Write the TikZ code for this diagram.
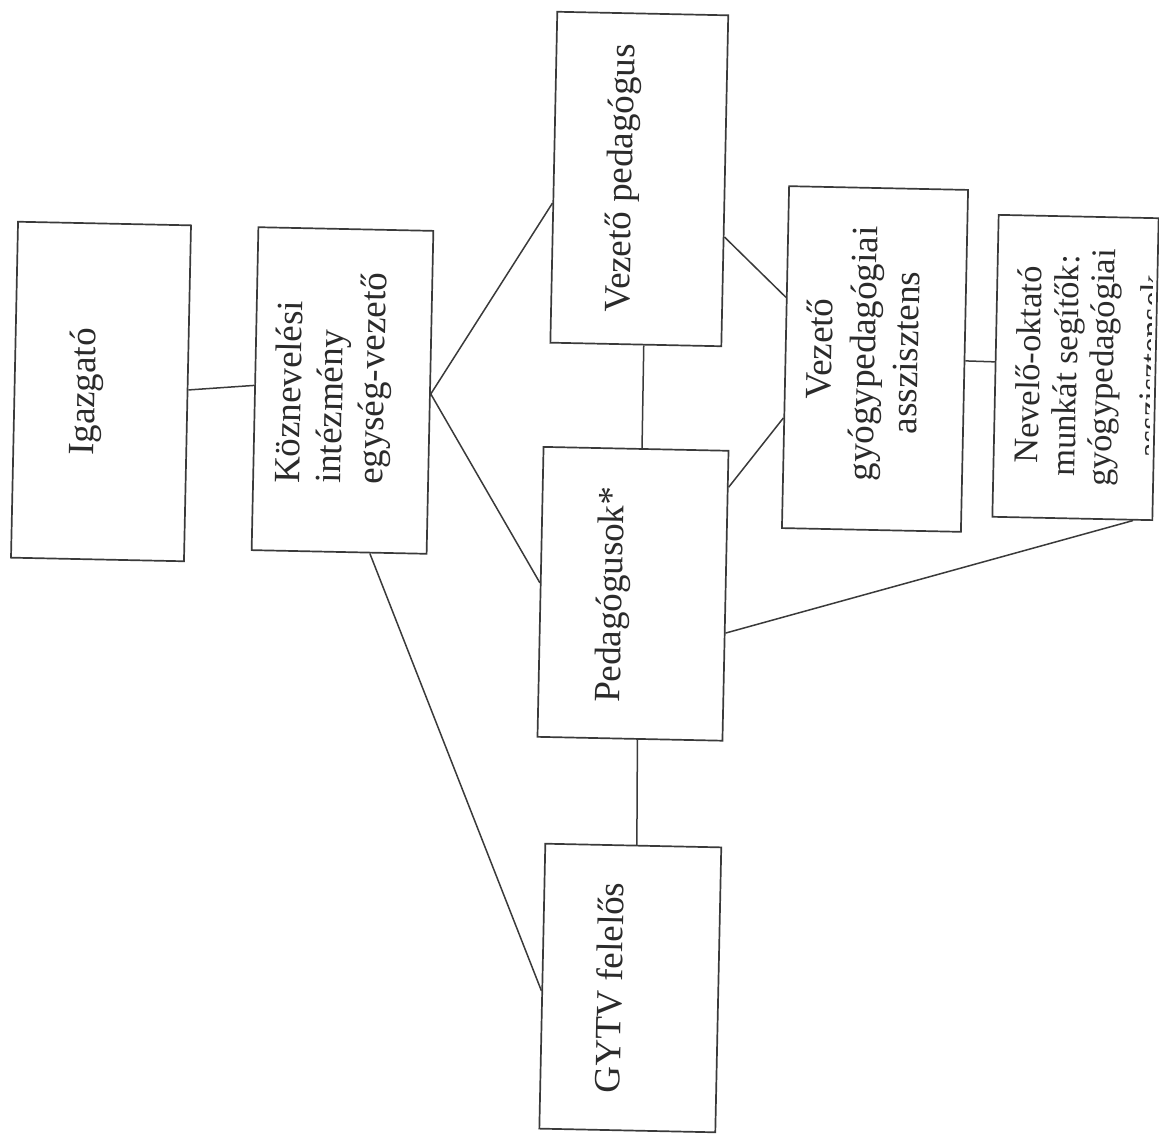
\documentclass[tikz,border=0pt]{standalone}
\usepackage{fontspec}
\setmainfont{Liberation Serif}
\usetikzlibrary{calc}
\definecolor{ink}{HTML}{3A3A3A}
\definecolor{txt}{HTML}{2B2B2B}
\begin{document}
\begin{tikzpicture}[x=1pt,y=1pt,
  box/.style={draw=ink, line width=1.7pt, rectangle, inner sep=0pt, rotate=-1.2},
  lbl/.style={text=txt, inner sep=0pt, rotate=88.8, font=\fontsize{37}{44}\selectfont},
  lbls/.style={text=txt, inner sep=0pt, rotate=88.8, font=\fontsize{34.5}{40}\selectfont},
  link/.style={draw=ink, line width=1.5pt}]
\useasboundingbox (0,0) rectangle (1159,-1137);
\fill[white] (0,0) rectangle (1159,-1137);
% boxes
\node[box, minimum width=173pt, minimum height=336pt] (ig) at (101,-391.5) {};
\node[box, minimum width=175pt, minimum height=323pt] (koz) at (342.5,-390.5) {};
\node[box, minimum width=171pt, minimum height=331pt] (vp) at (639.3,-179) {};
\node[box, minimum width=179pt, minimum height=342pt] (vga) at (875,-359) {};
\node[box, minimum width=160pt, minimum height=302pt] (nev) at (1075.5,-367.5) {};
\node[box, minimum width=185pt, minimum height=290pt] (ped) at (633,-593.8) {};
\node[box, minimum width=176pt, minimum height=285pt] (gytv) at (630.3,-988) {};
% labels
\node[lbl, anchor=base] (igT) at (95,-392) {Igazgató};
\node[lbl, anchor=base west] (kozA) at (299,-484) {Köznevelési};
\node[lbl, anchor=base west] (kozB) at (340.5,-484) {intézmény};
\node[lbl, anchor=base west] (kozC) at (382,-485) {egység-vezető};
\node[lbl, anchor=base] (vpT) at (632,-178.5) {Vezető pedagógus};
\node[lbl, anchor=base] (vgaA) at (832,-349) {Vezető};
\node[lbl, anchor=base] (vgaB) at (875,-354) {gyógypedagógiai};
\node[lbl, anchor=base] (vgaC) at (918,-353) {asszisztens};
\node[lbl, anchor=base] (pedT) at (622,-595) {Pedagógusok*};
\node[lbl, anchor=base] (gyT) at (622,-988) {GYTV felelős};
\node[lbls, anchor=base] (nevA) at (1040,-365) {Nevelő-oktató};
\node[lbls, anchor=base] (nevB) at (1077,-366) {munkát segítők:};
\node[lbls, anchor=base] (nevC) at (1113,-368) {gyógypedagógiai};
\begin{scope}
  \clip (nev.north west) -- ([xshift=-6pt]nev.north east) -- ([xshift=-6pt]nev.south east) -- (nev.south west) -- cycle;
  \node[lbls, anchor=base] (nevD) at (1163,-367) {asszisztensek};
\end{scope}
% connectors
\draw[link] ($(ig.north east)!0.49!(ig.south east)$) -- ($(koz.north west)!0.49!(koz.south west)$);
\draw[link] ($(koz.north east)!0.505!(koz.south east)$) -- ($(vp.north west)!0.578!(vp.south west)$);
\draw[link] ($(koz.north east)!0.505!(koz.south east)$) -- ($(ped.north west)!0.469!(ped.south west)$);
\draw[link] ($(vp.south west)!0.546!(vp.south east)$) -- ($(ped.north west)!0.532!(ped.north east)$);
\draw[link] ($(vp.north east)!0.669!(vp.south east)$) -- ($(vga.north west)!0.326!(vga.south west)$);
\draw[link] ($(ped.north east)!0.128!(ped.south east)$) -- ($(vga.north west)!0.677!(vga.south west)$);
\draw[link] ($(vga.north east)!0.50!(vga.south east)$) -- ($(nev.north west)!0.487!(nev.south west)$);
\draw[link] ($(ped.north east)!0.628!(ped.south east)$) -- ($(nev.south west)!0.875!(nev.south east)$);
\draw[link] ($(ped.south west)!0.54!(ped.south east)$) -- ($(gytv.north west)!0.52!(gytv.north east)$);
\draw[link] ($(koz.south west)!0.674!(koz.south east)$) -- ($(gytv.north west)!0.516!(gytv.south west)$);
\end{tikzpicture}
\end{document}
